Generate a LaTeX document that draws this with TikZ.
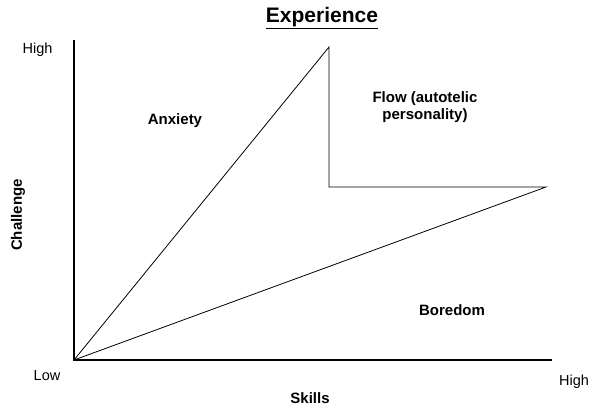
\documentclass[tikz,border=0pt]{standalone}
\usepackage{fontspec}
\setmainfont{Liberation Sans}

\tikzstyle{zonelabel} = [font=\fontsize{15}{17}\selectfont\bfseries, align=center, inner sep=0pt]
\tikzstyle{ticklabel} = [font=\fontsize{14.5}{17}\selectfont, inner sep=0pt]
\tikzstyle{axisline} = [draw=black, line width=1.1pt]
\tikzstyle{zoneline} = [draw=black, line width=0.8pt]

\begin{document}
\begin{tikzpicture}[x=1pt, y=-1pt]
\useasboundingbox (0,0) rectangle (590,408);

% axes
\coordinate (origin) at (74,360);
\coordinate (ytop) at (74,40);
\coordinate (xend) at (552,360);
\draw[axisline] (ytop) -- (origin) -- (xend);

% flow channel
\coordinate (peak) at (329,47);
\coordinate (corner) at (329,187);
\coordinate (rightpt) at (546,187);
\draw[zoneline] (origin) -- (peak) -- (corner) -- (rightpt) -- (origin);

\node [font=\fontsize{21}{25}\selectfont\bfseries, inner sep=0pt] (title) at (322,18) {\underline{Experience}};

\node [ticklabel] (highy) at (37.5,50) {High};
\node [ticklabel] (lowx) at (47,376) {Low};
\node [ticklabel] (highx) at (574,382) {High};

\node [zonelabel, rotate=90] (challenge) at (18,215) {Challenge};
\node [zonelabel] (skills) at (310,398) {Skills};

\node [zonelabel] (anxiety) at (175,121) {Anxiety};
\node [zonelabel] (flow) at (425,107) {Flow (autotelic\\personality)};
\node [zonelabel] (boredom) at (452,310) {Boredom};
\end{tikzpicture}
\end{document}
